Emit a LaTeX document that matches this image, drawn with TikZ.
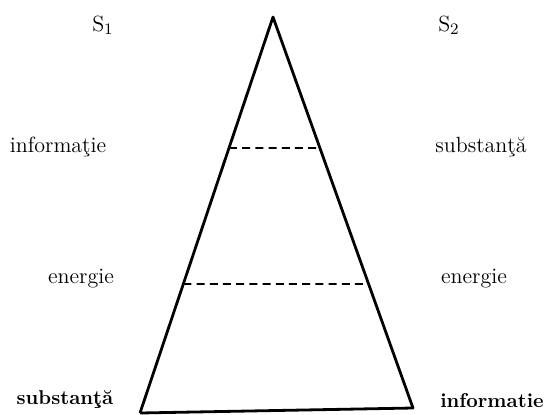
\documentclass[tikz,border=0pt]{standalone}
\usepackage{fontspec}
\usetikzlibrary{calc}

\begin{document}
\begin{tikzpicture}[
    x=0.5pt, y=-0.5pt,
    edge/.style={line width=1.4pt, line join=round},
    level/.style={line width=0.9pt, dash pattern=on 4pt off 2.6pt},
    lbl/.style={font=\fontsize{11}{13}\selectfont, inner sep=0pt},
    lblb/.style={font=\bfseries\fontsize{10}{12}\selectfont, inner sep=0pt},
]
\useasboundingbox (0,0) rectangle (548,414);

% === Triangle corners ===
\coordinate (apex) at (273,17);
\coordinate (bl) at (140,413);
\coordinate (br) at (413,408);

% === Triangle sides ===
\draw[edge] (bl) -- (apex) -- (br) -- (bl);

% === Level lines (dashed) ===
\coordinate (l1) at ($(apex)!0.331!(bl)$);
\coordinate (r1) at ($(apex)!0.335!(br)$);
\coordinate (l2) at ($(apex)!0.674!(bl)$);
\coordinate (r2) at ($(apex)!0.683!(br)$);
\draw[level] (l1) -- (r1);
\draw[level] (l2) -- (r2);

% === System labels ===
\node[lbl] (s1) at (103,25) {S$_1$};
\node[lbl] (s2) at (449,25) {S$_2$};

% === Left column ===
\node[lbl] (infoL) at (58,147) {informaţie};
\node[lbl] (enL) at (81,279) {energie};
\node[lblb] (subL) at (65,399) {substanţă};

% === Right column ===
\node[lbl] (subR) at (481,147) {substanţă};
\node[lbl] (enR) at (474,279) {energie};
\node[lblb] (infoR) at (492,401) {informatie};

\end{tikzpicture}
\end{document}
